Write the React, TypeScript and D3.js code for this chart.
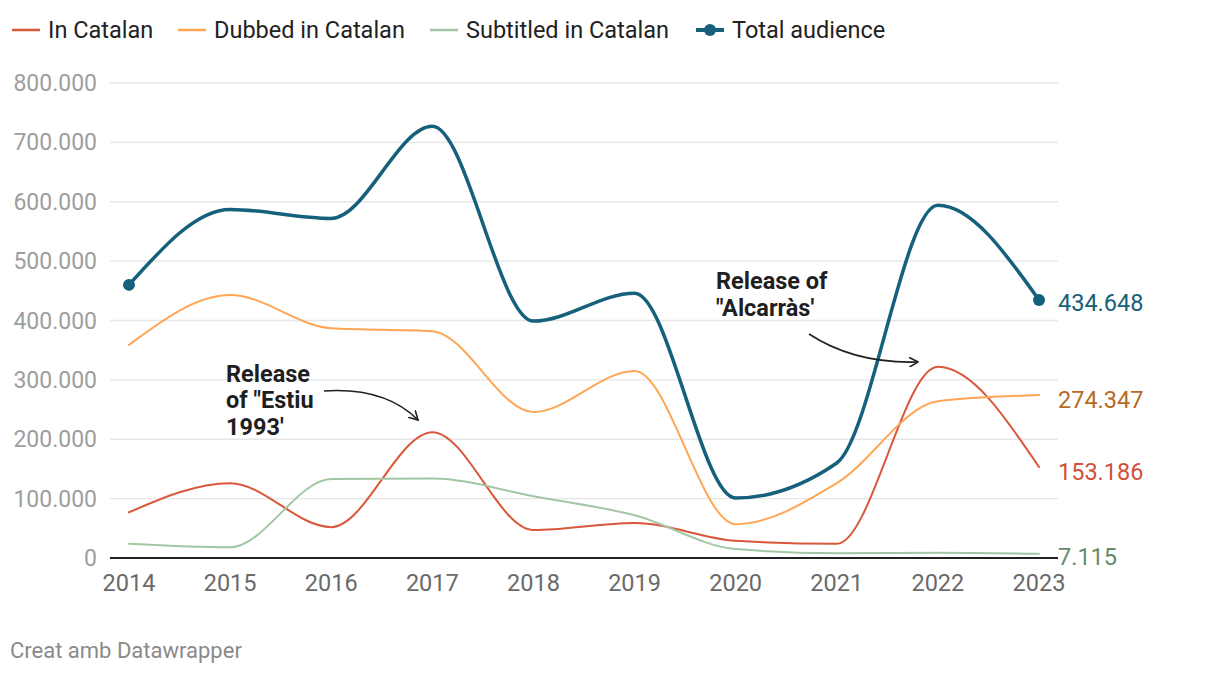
import React from "react";
import * as d3 from "d3";

const years = [2014, 2015, 2016, 2017, 2018, 2019, 2020, 2021, 2022, 2023];
const inCatalan = [77000, 126000, 52000, 212000, 47000, 59000, 29000, 24000, 322000, 153186];
const dubbedCatalan = [359000, 443000, 387000, 382000, 246000, 315000, 57000, 126000, 264000, 274347];
const subtitledCatalan = [24000, 18000, 133000, 134000, 104000, 72000, 15000, 8000, 9000, 7115];
const totalAudience = [460000, 587000, 572000, 727000, 399000, 446000, 101000, 160000, 594000, 434648];
const yTicks = [0, 100000, 200000, 300000, 400000, 500000, 600000, 700000, 800000];

const W = 1220, H = 676;
const FONT = "Roboto, 'Noto Sans', sans-serif";

const fmt = (v: number) => {
  if (v === 0) return "0";
  return d3.format(",")(v).replace(/,/g, ".");
};

export default function App() {
  const x = d3.scaleLinear().domain([2014, 2023]).range([129, 1039]);
  const y = d3.scaleLinear().domain([0, 800000]).range([558, 83]);
  const line = d3
    .line<number>()
    .x((_, i) => x(years[i]))
    .y((d) => y(d))
    .curve(d3.curveMonotoneX);

  const series = [
    { name: "In Catalan", data: inCatalan, color: "#d9573b", w: 2, label: "#d0503a", lx: 12, tx: 48 },
    { name: "Dubbed in Catalan", data: dubbedCatalan, color: "#fea654", w: 2, label: "#b8691f", lx: 178, tx: 214 },
    { name: "Subtitled in Catalan", data: subtitledCatalan, color: "#a3c6a4", w: 2, label: "#678a68", lx: 430, tx: 466 },
    { name: "Total audience", data: totalAudience, color: "#15607a", w: 3.5, label: "#15607a", lx: 696, tx: 732 },
  ];

  const labelYs = [472, 400, 557, 303];

  return (
    <svg width={W} height={H} style={{ position: "absolute", left: 0, top: 0, background: "#fff" }} fontFamily={FONT}>
      {/* legend */}
      {series.map((s, i) => (
        <g key={s.name}>
          <line x1={s.lx} x2={s.lx + 28} y1={30} y2={30} stroke={s.color} strokeWidth={i === 3 ? 4 : 2.5} />
          {i === 3 && <circle cx={s.lx + 14} cy={30} r={6} fill={s.color} />}
          <text x={s.tx} y={38} fontSize={23.5} fill="#222">{s.name}</text>
        </g>
      ))}
      {/* grid */}
      {yTicks.map((t) => (
        <g key={t}>
          {t > 0 && <line x1={110} x2={1058} y1={y(t)} y2={y(t)} stroke="#e6e6e6" strokeWidth={1.3} />}
          <text x={97} y={y(t) + 8} textAnchor="end" fontSize={23} fill="#9e9e9e">{fmt(t)}</text>
        </g>
      ))}
      <line x1={110} x2={1058} y1={y(0)} y2={y(0)} stroke="#222" strokeWidth={2} />
      {/* x labels */}
      {years.map((yr) => (
        <text key={yr} x={x(yr)} y={591} textAnchor="middle" fontSize={23.5} fill="#6a6a6a">{yr}</text>
      ))}
      {/* lines */}
      {series.map((s) => (
        <path key={s.name} d={line(s.data) || ""} fill="none" stroke={s.color} strokeWidth={s.w} strokeLinejoin="round" strokeLinecap="round" />
      ))}
      <circle cx={x(2014)} cy={y(totalAudience[0])} r={6} fill="#15607a" />
      <circle cx={x(2023)} cy={y(totalAudience[9])} r={6} fill="#15607a" />
      {/* end labels */}
      {series.map((s, i) => (
        <text key={s.name} x={1058} y={labelYs[i] + 8} fontSize={23.5} fill={s.label}>{fmt(s.data[9])}</text>
      ))}
      {/* annotations */}
      <g fontSize={23.5} fontWeight={700} fill="#1f1f1f">
        <text x={226} y={382}>Release</text>
        <text x={226} y={408}>of "Estiu</text>
        <text x={226} y={435}>1993'</text>
        <text x={716} y={289}>Release of</text>
        <text x={716} y={316}>"Alcarràs'</text>
      </g>
      <defs>
        <marker id="arr" viewBox="0 0 10 10" refX={9} refY={5} markerWidth={10} markerHeight={10} markerUnits="userSpaceOnUse" orient="auto">
          <path d="M0,0 L9,5 L0,10" fill="none" stroke="#1f1f1f" strokeWidth={1.6} />
        </marker>
      </defs>
      <path d="M324,391 Q385,387 418,420" fill="none" stroke="#1f1f1f" strokeWidth={1.6} markerEnd="url(#arr)" />
      <path d="M809,334 Q855,364 918,362" fill="none" stroke="#1f1f1f" strokeWidth={1.6} markerEnd="url(#arr)" />
      <text x={10} y={658} fontSize={22} fill="#8a8a8a">Creat amb Datawrapper</text>
    </svg>
  );
}
